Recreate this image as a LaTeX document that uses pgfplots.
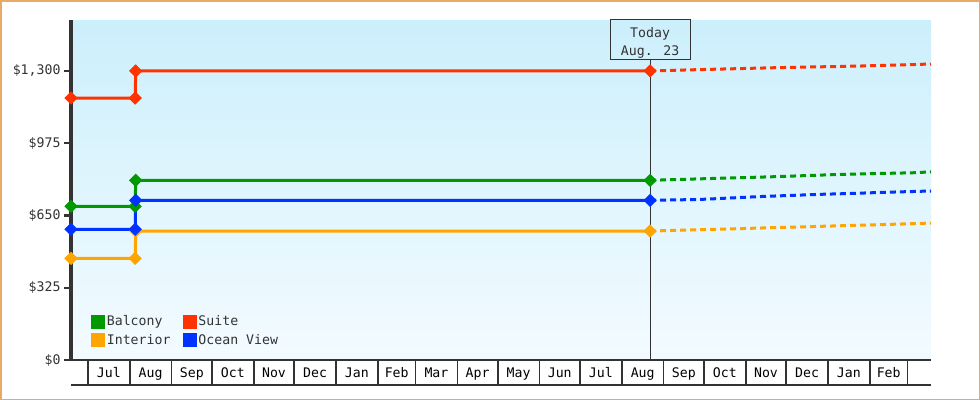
\documentclass[border=0pt]{standalone}
\usepackage{pgfplots}
\pgfplotsset{compat=1.18}
\usepackage{fontspec}
\setmainfont{DejaVu Sans Mono}

\definecolor{suite}{HTML}{FF3300}
\definecolor{balcony}{HTML}{009900}
\definecolor{interior}{HTML}{FFA500}
\definecolor{ocean}{HTML}{0033FF}
\definecolor{ink}{HTML}{333333}
\definecolor{frame}{HTML}{E8AA66}
\definecolor{skytop}{HTML}{CCEFFC}
\definecolor{skybot}{HTML}{F3FBFF}

\newcommand{\chartfont}{\fontsize{13.2bp}{15bp}\selectfont}

\begin{document}
\begin{tikzpicture}[font=\chartfont]
\useasboundingbox (0,0) rectangle (980bp,-400bp);
\draw[frame, line width=1.5bp] (0.75bp,-0.75bp) rectangle (979.25bp,-399.25bp);
\begin{axis}[
  at={(71bp,-360bp)}, anchor=south west,
  scale only axis, width=860bp, height=340bp,
  xmin=-12.6, xmax=625.4, ymin=0, ymax=1529,
  axis x line*=bottom, axis y line*=left,
  clip=false,
  axis background/.style={top color=skytop, bottom color=skybot},
  x axis line style={ink, line width=2bp},
  y axis line style={ink, line width=3bp},
  tick align=outside,
  major tick length=7bp,
  ytick={0,325,650,975,1300},
  yticklabels={\$0,\$325,\$650,\$975,{\$1,300}},
  ytick style={ink, line width=2.2bp},
  xtick={15.5,46.5,77,107.5,138,168.5,199.5,229,258.5,289,319.5,350,380.5,411.5,442,472.5,503,533.5,564.5,594},
  xticklabels={Jul,Aug,Sep,Oct,Nov,Dec,Jan,Feb,Mar,Apr,May,Jun,Jul,Aug,Sep,Oct,Nov,Dec,Jan,Feb},
  xtick style={draw=none},
  tick label style={font=\chartfont, text=ink},
  xticklabel style={anchor=base, yshift=-10.7bp, text=black},
  every axis plot/.append style={line width=3bp},
  legend columns=2,
  legend cell align=left,
  legend style={at={(0.0235,0.1365)}, anchor=north west, draw=none, fill=none,
    inner sep=0pt, font=\chartfont, text=ink, column sep=0pt, row sep=3bp,
    nodes={inner xsep=1.5bp},
    /tikz/every even column/.append style={column sep=11bp}},
  legend image code/.code={\fill[#1, solid] (0bp,-5.5bp) rectangle (11bp,5.5bp);},
]
% month separators under the axis
\pgfplotsinvokeforeach{0,31,62,92,123,153,184,215,243,274,304,335,365,396,427,457,488,518,549,580,608}{
  \draw[ink, line width=1.5bp] (axis cs:#1,0) -- ([yshift=-25bp]axis cs:#1,0);
}
\draw[ink, line width=1.5bp] ([yshift=-25bp]rel axis cs:0,0) -- ([yshift=-25bp]rel axis cs:1,0);

% today marker
\draw[ink, line width=1bp] (axis cs:417,0) -- (axis cs:417,1349.5);
\node[draw=ink, line width=1bp, minimum width=80bp, minimum height=40bp,
  anchor=south, inner sep=0pt] (today) at (axis cs:417,1349.5) {};
\node[align=center, inner sep=0pt, text=ink, font=\fontsize{13.2bp}{18bp}\selectfont,
  yshift=-3.5bp] at (today.center) {Today\\Aug. 23};

% forecasts
\addplot[balcony, dash pattern=on 6bp off 4bp, forget plot] coordinates {
  (417,808) (455.5,815) (507.4,824) (560.1,835) (612,842) (625.4,846)
};
\addplot[suite, dash pattern=on 6bp off 4bp, forget plot] coordinates {
  (417,1300) (454,1306) (513,1315) (573,1322) (625.4,1331)
};
\addplot[interior, dash pattern=on 6bp off 4bp, forget plot] coordinates {
  (417,580) (455.5,586) (507.4,595) (560.1,604) (612,613) (625.4,616)
};
\addplot[ocean, dash pattern=on 6bp off 4bp, forget plot] coordinates {
  (417,718) (454,722) (498.5,735) (543,745) (566.8,749) (589.8,754) (625.4,760)
};

% recorded prices
\addplot[balcony, mark=square*, mark size=3.2bp, mark options={rotate=45, solid}] coordinates {
  (-12.6,691) (35,691) (35.4,808) (417,808)
};
\addlegendentry{Balcony}
\addplot[suite, mark=square*, mark size=3.2bp, mark options={rotate=45, solid}] coordinates {
  (-12.6,1178) (35,1178) (35.4,1300) (417,1300)
};
\addlegendentry{Suite}
\addplot[interior, mark=square*, mark size=3.2bp, mark options={rotate=45, solid}] coordinates {
  (-12.6,457) (35,457) (35.4,580) (417,580)
};
\addlegendentry{Interior}
\addplot[ocean, mark=square*, mark size=3.2bp, mark options={rotate=45, solid}] coordinates {
  (-12.6,588) (35,588) (35.4,718) (417,718)
};
\addlegendentry{Ocean View}
\end{axis}
\end{tikzpicture}
\end{document}
